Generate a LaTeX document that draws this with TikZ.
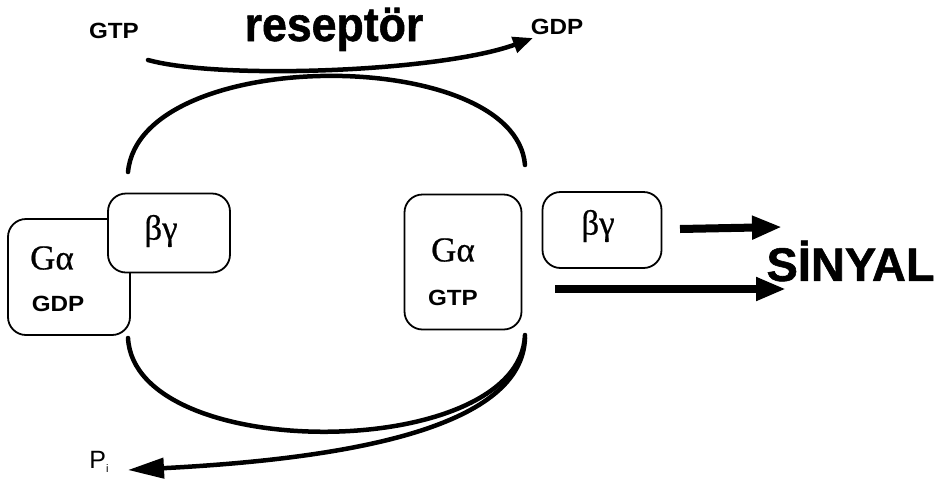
\documentclass[tikz,border=0pt]{standalone}
\usepackage{fontspec}
\setmainfont{Liberation Sans}
\newfontfamily\greekserif[FakeBold=0.6]{Liberation Serif}
\newfontfamily\heavysans[FakeBold=1.2]{Liberation Sans Bold}
\usetikzlibrary{arrows.meta}
\begin{document}
\begin{tikzpicture}[x=1pt,y=-1pt,
  curve/.style={line width=4.5pt,line cap=round},
  bigarrow/.style={line width=8pt,-{Triangle[length=30pt,width=22pt]}},
  protbox/.style={draw,line width=1.8pt,rounded corners=18pt,fill=white},
  smalllabel/.style={font=\bfseries\fontsize{22}{24}\selectfont,xscale=1.1},
  greeklabel/.style={font=\greekserif\fontsize{35}{37}\selectfont}]
\useasboundingbox (0,0) rectangle (940,488);

% receptor arc and the GTP -> GDP exchange arrow
\node[font=\heavysans\fontsize{48}{50}\selectfont,xscale=0.93,anchor=base] (rec) at (334,41) {reseptör};
\node[smalllabel] (gtptop) at (114,31) {GTP};
\node[smalllabel] (gdptop) at (557,27) {GDP};
\draw[curve] (128,172) .. controls (140,45) and (515,45) .. (525,165);
\draw[curve,-{Triangle[length=20pt,width=16pt]}]
  (148,60) .. controls (220,80) and (440,72) .. (533,38);

% hydrolysis arc and the released phosphate
\draw[curve] (128,338) .. controls (135,465) and (520,462) .. (525,335);
\coordinate (pend) at (128,470);
\draw[curve,-{Triangle[length=36pt,width=20pt]}]
  (525,338) .. controls (522,425) and (360,458) .. (pend);
\node[font=\fontsize{25}{27}\selectfont] (pi) at (99,462) {P\raisebox{-0.35ex}{\fontsize{11}{12}\selectfont i}};

% inactive heterotrimer
\node[protbox,minimum width=122pt,minimum height=116pt] (galeft) at (69,277) {};
\node[protbox,minimum width=122pt,minimum height=79pt] (bgleft) at (169,233) {};
\node[greeklabel] at (52,258) {Gα};
\node[smalllabel] at (58,304) {GDP};
\node[greeklabel] at (161,231) {βγ};

% activated subunits
\node[protbox,minimum width=117pt,minimum height=135pt] (garight) at (463,262) {};
\node[greeklabel] at (453,250) {Gα};
\node[smalllabel] at (453,298) {GTP};
\node[protbox,minimum width=119pt,minimum height=76pt] (bgright) at (602,230) {};
\node[greeklabel] at (598,226) {βγ};

% downstream signalling
\node[font=\heavysans\fontsize{47}{49}\selectfont,anchor=west] (signal) at (763,261) {SİNYAL};
\draw[bigarrow] (680,229) -- (782,227);
\draw[bigarrow] (555,289) -- (786,289);
\end{tikzpicture}
\end{document}
